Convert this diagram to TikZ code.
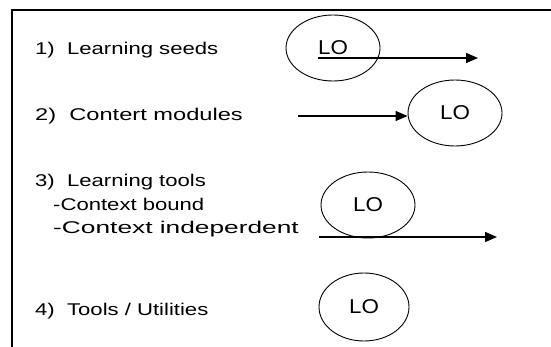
\documentclass[tikz,border=0pt]{standalone}
\usepackage{fontspec}
\setmainfont{Liberation Sans}
\newfontfamily\labfont[FakeStretch=1.3]{Liberation Sans}
\newfontfamily\lofont[FakeStretch=1.12]{Liberation Sans}
\usetikzlibrary{shapes.geometric,arrows.meta}
\begin{document}
\begin{tikzpicture}[x=1pt,y=-1pt,
  lab/.style={anchor=base west,inner sep=0pt,font=\labfont\fontsize{17pt}{20pt}\selectfont},
  lo/.style={draw,ellipse,line width=0.9pt,inner sep=0pt,minimum width=94pt,minimum height=66pt,font=\lofont\fontsize{20pt}{24pt}\selectfont},
  arr/.style={line width=1.4pt,-{Triangle[length=12pt,width=10pt]}}]
\useasboundingbox (0,0) rectangle (551,347);
\fill[white] (0,0) rectangle (551,347);
\coordinate (fr) at (12,347);
\coordinate (fc) at (12,10);
\coordinate (ft) at (551,10);
\draw[line width=1.5pt] (fr) -- (fc) -- (ft);
\node[lab] (t1) at (35,55) {1)\ \ Learning seeds};
\node[lab] (t2) at (35,121) {\scalebox{1.07}[1]{2)\ \ Contert modules}};
\node[lab] (t3) at (35,187) {3)\ \ Learning tools};
\node[lab] (t3a) at (53,211) {-Context bound};
\node[lab] (t3b) at (53,234) {\scalebox{1.19}[1]{-Context indeperdent}};
\node[lab] (t4) at (35,315) {4)\ \ Tools / Utilities};
\node[lo] (e1) at (333,48) {LO};
\node[lo] (e2) at (455,113) {LO};
\node[lo] (e3) at (368,205) {LO};
\node[lo,minimum width=90pt,minimum height=68pt] (e4) at (364,307) {LO};
\coordinate (a1s) at (318,58);
\coordinate (a1e) at (478,58);
\draw[arr] (a1s) -- (a1e);
\coordinate (a2s) at (298,116);
\draw[arr] (a2s) -- (e2.west |- a2s);
\coordinate (a3s) at (319,237);
\coordinate (a3e) at (497,237);
\draw[arr] (a3s) -- (a3e);
\end{tikzpicture}
\end{document}
